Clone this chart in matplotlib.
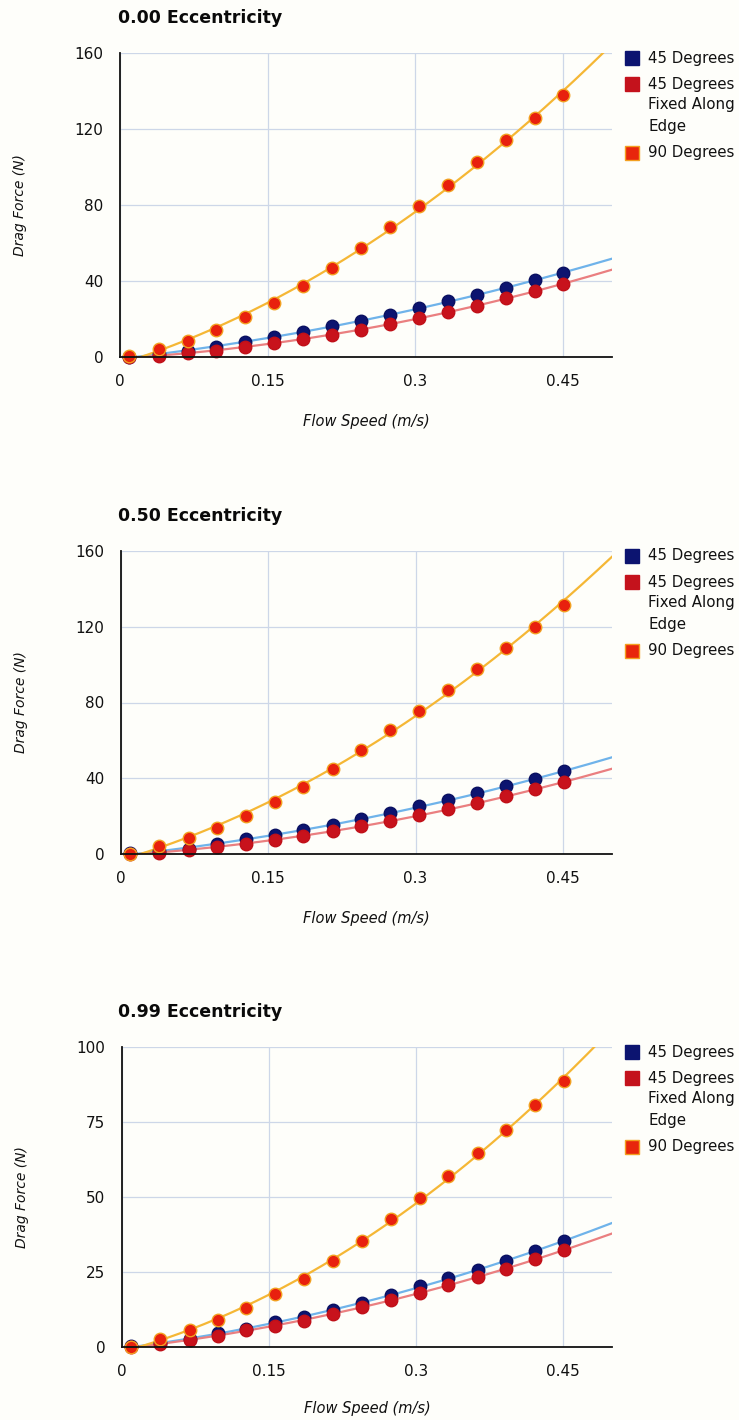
import numpy as np
import matplotlib
matplotlib.use("Agg")
import matplotlib.pyplot as plt
from matplotlib.patches import Rectangle

plt.rcParams['font.family'] = ['DejaVu Sans']

# ---------------- data ----------------
speed = [0.0093, 0.0392, 0.0689, 0.0978, 0.1268, 0.1565, 0.1855, 0.2155,
         0.2448, 0.2744, 0.3038, 0.3330, 0.3630, 0.3920, 0.4217, 0.4507]

titles = ["0.00 Eccentricity", "0.50 Eccentricity", "0.99 Eccentricity"]
series_names = ["45 Degrees", "45 Degrees\nFixed Along\nEdge", "90 Degrees"]

deg45_e000 = [0.2, 1.4, 3.2, 5.5, 7.9, 10.6, 13.2, 16.1, 19.0, 22.2, 25.7, 29.3, 32.8, 36.5, 40.4, 44.2]
fixed_e000 = [0.0, 0.5, 1.9, 3.3, 5.3, 7.2, 9.3, 11.8, 14.4, 17.4, 20.6, 23.8, 27.1, 30.8, 34.5, 38.4]
deg90_e000 = [0.3, 4.1, 8.5, 14.1, 20.8, 28.4, 37.2, 47.0, 57.4, 68.2, 79.5, 90.7, 102.4, 114.4, 126.0, 137.8]

deg45_e050 = [0.4, 1.4, 2.6, 5.4, 7.7, 10.2, 12.7, 15.5, 18.5, 21.6, 25.1, 28.5, 32.0, 35.7, 39.6, 43.6]
fixed_e050 = [0.0, 0.5, 2.3, 3.5, 5.4, 7.6, 9.7, 12.1, 14.6, 17.4, 20.4, 23.6, 26.9, 30.4, 34.1, 37.9]
deg90_e050 = [0.2, 4.4, 8.5, 13.7, 19.9, 27.3, 35.4, 44.9, 54.9, 65.3, 75.6, 86.7, 97.8, 109.0, 120.1, 131.5]

deg45_e099 = [0.2, 1.2, 2.7, 4.6, 6.0, 8.2, 10.1, 12.2, 14.8, 17.4, 20.2, 22.9, 25.8, 28.8, 32.0, 35.2]
fixed_e099 = [0.0, 0.9, 2.3, 3.8, 5.6, 7.1, 8.8, 11.1, 13.3, 15.6, 18.1, 20.7, 23.3, 26.1, 29.2, 32.2]
deg90_e099 = [0.1, 2.8, 5.7, 9.0, 12.9, 17.7, 22.8, 28.8, 35.3, 42.6, 49.8, 57.1, 64.7, 72.4, 80.6, 88.6]

panels = [
    (deg45_e000, fixed_e000, deg90_e000),
    (deg45_e050, fixed_e050, deg90_e050),
    (deg45_e099, fixed_e099, deg90_e099),
]
yticks_list = [[0, 40, 80, 120, 160], [0, 40, 80, 120, 160], [0, 25, 50, 75, 100]]
xticks = [0, 0.15, 0.3, 0.45]
xtick_labels = ["0", "0.15", "0.3", "0.45"]

# ---------------- style ----------------
W, H = 739, 1420
fig = plt.figure(figsize=(W / 100, H / 100), dpi=100)
bg = '#fefefa'
fig.patch.set_facecolor(bg)
txt = '#111111'
grid_c = '#cdd7e8'

marker_face = ['#0c1470', '#c8121c', '#e8200e']
marker_edge = ['#0a1060', '#c01018', '#f2a020']
line_c = ['#6fb3ea', '#ea7f80', '#f5b735']
legend_face = ['#0c1470', '#c4121c', '#e8260c']
legend_edge = ['#0c1470', '#c4121c', '#f3a020']

# axes pixel boxes (left, top, right, bottom)
boxes = [(120, 53, 612, 357), (121, 551, 612, 854), (122, 1047, 612, 1347)]
xlabel_pads = [18, 18, 16]

def fx(x):
    return x / W

def fy(y):
    return 1 - y / H

for i, (box, data, title, yt) in enumerate(zip(boxes, panels, titles, yticks_list)):
    l, t, r, b = box
    ax = fig.add_axes([fx(l), fy(b), (r - l) / W, (b - t) / H])
    ax.set_facecolor(bg)
    ax.set_xlim(0, 0.5)
    ax.set_ylim(0, yt[-1])
    ax.set_xticks(xticks)
    ax.set_xticklabels(xtick_labels)
    ax.set_yticks(yt)
    ax.tick_params(length=0, labelsize=11, colors=txt)
    ax.tick_params(axis='y', pad=12)
    ax.tick_params(axis='x', pad=12)
    ax.grid(True, color=grid_c, linewidth=0.9)
    ax.set_axisbelow(True)
    for s in ['top', 'right']:
        ax.spines[s].set_visible(False)
    for s in ['left', 'bottom']:
        ax.spines[s].set_color('#111111')
        ax.spines[s].set_linewidth(1.3)
        ax.spines[s].set_zorder(5)

    xs = np.array(speed)
    xx = np.linspace(0.0, 0.5, 300)
    for k, ys in enumerate(data):
        coef = np.polyfit(xs, np.array(ys), 2)
        ax.plot(xx, np.polyval(coef, xx), color=line_c[k], linewidth=1.6, zorder=2 + k * 0.1)
    for k, ys in enumerate(data):
        ax.plot(xs, ys, linestyle='none', marker='o', markersize=9,
                markerfacecolor=marker_face[k], markeredgecolor=marker_edge[k],
                markeredgewidth=1.0, zorder=3 + k, clip_on=False)

    ax.set_xlabel("Flow Speed (m/s)", fontstyle='italic', fontsize=10.5, color=txt,
                  labelpad=xlabel_pads[i])
    ax.set_ylabel("Drag Force (N)", fontstyle='italic', fontsize=10, color=txt, labelpad=34)

    fig.text(fx(118), fy(t - 35), title, fontsize=12.5, fontweight='bold', color='#0a0a0a',
             ha='left', va='center')

    # legend
    sq = 14
    rows = [t + 5, t + 31, t + 99.5]
    for k in range(3):
        cy = rows[k]
        fig.patches.append(Rectangle((fx(625), fy(cy + sq / 2)), sq / W, sq / H,
                                     transform=fig.transFigure, facecolor=legend_face[k],
                                     edgecolor=legend_edge[k], linewidth=1.0))
    fig.text(fx(648), fy(t + 5), "45 Degrees", fontsize=10.8, color=txt, ha='left', va='center')
    for j, line in enumerate(["45 Degrees", "Fixed Along", "Edge"]):
        fig.text(fx(648), fy(t + 31 + 21 * j), line, fontsize=10.8, color=txt, ha='left', va='center')
    fig.text(fx(648), fy(t + 99.5), "90 Degrees", fontsize=10.8, color=txt, ha='left', va='center')

fig.savefig("out.png", dpi=100, facecolor=fig.get_facecolor())
